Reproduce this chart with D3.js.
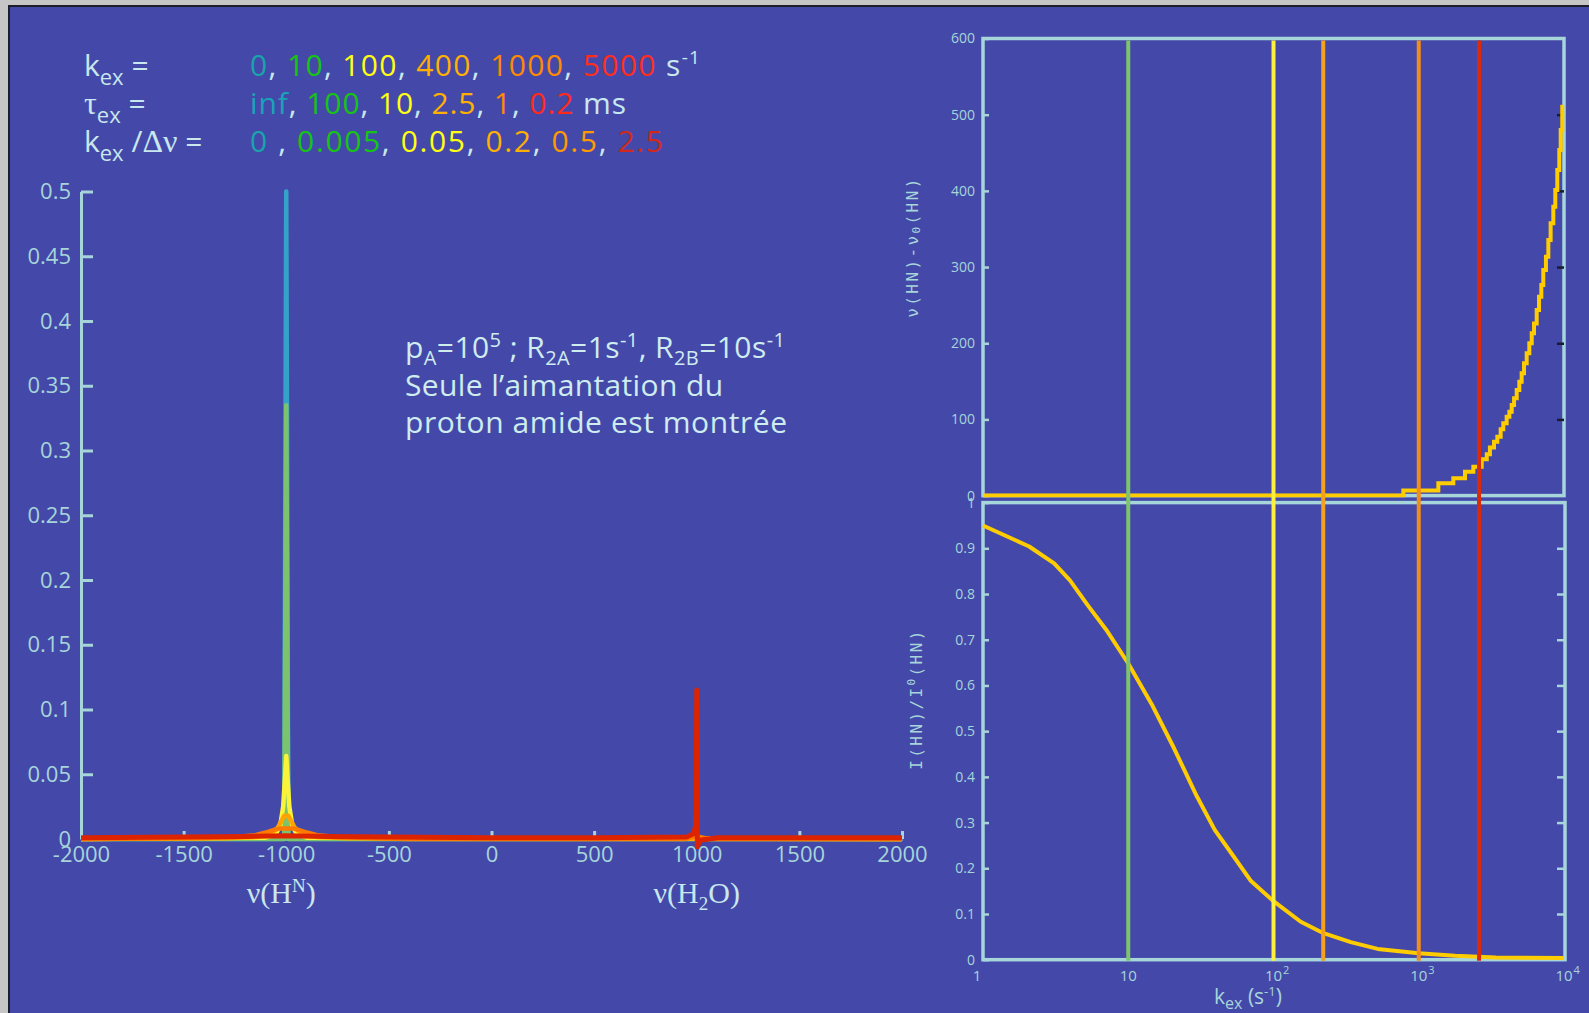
<!DOCTYPE html>
<html>
<head>
<meta charset="utf-8">
<script src="https://cdn.jsdelivr.net/npm/d3@7"></script>
<style>
  html, body { margin: 0; padding: 0; background: #c6c6c6; }
  svg { display: block; }
</style>
</head>
<body>
<svg id="chart" width="1589" height="1013"></svg>
<script>
// ---------------- data ----------------
// exchange rates shown in the header, with their lifetimes and kex/Δν ratios
const kexLabels   = ["0", "10", "100", "400", "1000", "5000"];
const tauLabels   = ["inf", "100", "10", "2.5", "1", "0.2"];
const ratioLabels = ["0 ", "0.005", "0.05", "0.2", "0.5", "2.5"];

// simulated amide-proton spectra, [frequency (Hz), intensity]
const specKex0 = [[-2000, 0], [-1010, 0], [-1000, 0.5], [-990, 0], [2000, 0]];
const specKex10 = [[-2000, 0], [-1010, 0], [-1000, 0.335], [-990, 0], [2000, 0]];
const specKex100 = [[-2000, 0], [-1100, 0.001], [-1050, 0.004], [-1030, 0.01], [-1015, 0.025],
  [-1005, 0.05], [-1000, 0.064], [-995, 0.05], [-985, 0.025], [-970, 0.01], [-950, 0.004],
  [-900, 0.001], [2000, 0]];
const specKex400 = [[-2000, 0], [-1300, 0.0005], [-1150, 0.0015], [-1100, 0.003], [-1060, 0.006],
  [-1040, 0.009], [-1020, 0.015], [-1010, 0.018], [-990, 0.018], [-980, 0.015], [-960, 0.009],
  [-940, 0.006], [-900, 0.003], [-850, 0.0015], [-700, 0.0005], [2000, 0]];
const specKex1000 = [[-2000, 0], [-1400, 0.0008], [-1250, 0.0015], [-1150, 0.003], [-1100, 0.005],
  [-1060, 0.007], [-1030, 0.0082], [-970, 0.0082], [-940, 0.007], [-900, 0.005], [-850, 0.003],
  [-750, 0.0015], [-600, 0.0008], [-400, 0], [940, 0], [1000, 0.002], [1060, 0], [2000, 0]];
const specKex5000 = [[-2000, 0.001], [-1500, 0.0015], [-1200, 0.002], [-1000, 0.0025], [-800, 0.002],
  [-500, 0.0015], [0, 0.001], [500, 0.001], [950, 0.0015], [985, 0.004], [997, 0.012],
  [1000, 0.115], [1003, -0.006], [1015, -0.001], [1100, 0.001], [2000, 0.001]];

const freqTicks = [-2000, -1500, -1000, -500, 0, 500, 1000, 1500, 2000];
const freqTickLabels = ["-2000", "-1500", "-1000", "-500", "0", "500", "1000", "1500", "2000"];
const intensityTicks = [0, 0.05, 0.1, 0.15, 0.2, 0.25, 0.3, 0.35, 0.4, 0.45, 0.5];
const intensityTickLabels = ["0", "0.05", "0.1", "0.15", "0.2", "0.25", "0.3", "0.35", "0.4", "0.45", "0.5"];

// right-hand panels: kex (s-1) on a log axis
const markerKex = [10, 100, 220, 1000, 2600];
const shiftCurve = [[1, 0], [783, 6.6], [1364, 16.1], [1730, 22.7], [2081, 31.4], [2376, 38],
  [2712, 47.6], [2940, 54.2], [3090, 63.3], [3296, 70.8], [3475, 77.4], [3664, 87], [3820, 94.9],
  [4030, 103.6], [4205, 110], [4365, 119], [4530, 127.7], [4725, 138.6], [4925, 149.5],
  [5110, 160.5], [5305, 173.6], [5535, 186.8], [5770, 199.9], [5995, 213], [6215, 226],
  [6485, 243.6], [6730, 261], [6980, 276.4], [7200, 296], [7510, 313.6], [7800, 335.5],
  [8090, 357.4], [8440, 379], [8710, 401], [8990, 427.4], [9280, 453.6], [9490, 480],
  [9730, 510.5], [10000, 510.5]];
const ratioCurve = [[1, 0.95], [2.08, 0.904], [3.09, 0.867], [3.97, 0.83], [5.3, 0.774],
  [7.05, 0.722], [10, 0.648], [14.5, 0.559], [20.7, 0.462], [29.6, 0.358], [39.4, 0.284],
  [52.6, 0.228], [70, 0.172], [100, 0.128], [154, 0.083], [221, 0.058], [340, 0.0385],
  [521, 0.0236], [1000, 0.014], [1780, 0.0088], [3390, 0.005], [10000, 0.0035]];
const shiftTicks = [0, 100, 200, 300, 400, 500, 600];
const ratioTicks = [0, 0.1, 0.2, 0.3, 0.4, 0.5, 0.6, 0.7, 0.8, 0.9, 1];
const ratioTickLabels = ["0", "0.1", "0.2", "0.3", "0.4", "0.5", "0.6", "0.7", "0.8", "0.9", "1"];
const kexTicks = [1, 10, 100, 1000, 10000];
const kexTickBase = ["1", "10", "10", "10", "10"];
const kexTickExp  = ["", "", "2", "3", "4"];

// ---------------- styles ----------------
const BG = "#4449a9";
const AX = "#a6d5da";
const LIGHT = "#c9e7ee";
const SANS = "'Open Sans', 'DejaVu Sans', sans-serif";
const SERIF = "'Liberation Serif', 'DejaVu Serif', serif";
const MONO = "'DejaVu Sans Mono', 'Liberation Mono', monospace";
const rowColors = [
  ["#1aa3ab", "#16c414", "#ffff10", "#ffb000", "#ff8a00", "#ff2d1c"],
  ["#1aa3b8", "#16c414", "#ffff10", "#ffb000", "#ff8a00", "#ff2a1a"],
  ["#1aa3ab", "#16c414", "#ffff10", "#ffb000", "#ff9900", "#d2281a"]
];
const spectrumColors = ["#35a3c9", "#7cc36d", "#fbf23a", "#ffa400", "#ff7a00", "#dd2400"];
const markerColors = ["#7dc46d", "#fcf03c", "#f4a21e", "#f28c1c", "#d92b0c"];
const CURVE = "#ffcc00";

const svg = d3.select("#chart");
const W = 1589, H = 1013;

// page background with the thin framed edge
svg.append("rect").attr("width", W).attr("height", H).attr("fill", "#c6c6c6");
svg.append("rect").attr("x", 8).attr("y", 5).attr("width", W).attr("height", H).attr("fill", "#1e1e2a");
svg.append("rect").attr("x", 10).attr("y", 7).attr("width", W).attr("height", H).attr("fill", BG);

// stretch letter spacing so a line spans a given width
function fitWidth(sel, target) {
  const node = sel.node();
  const w = node.getComputedTextLength();
  const n = node.textContent.length;
  if (n > 1) sel.attr("letter-spacing", ((target - w) / (n - 1)).toFixed(2));
}

// ---------------- header ----------------
const header = svg.append("g").attr("font-family", SANS).attr("fill", LIGHT);
const rowY = [76, 113.5, 151.5];

function rowLabel(y, parts) {
  const t = header.append("text").attr("x", 84).attr("y", y).attr("font-size", 30);
  parts.forEach(p => {
    const s = t.append("tspan").text(p.t);
    if (p.sub) s.attr("font-size", 22).attr("dy", 9);
    if (p.back) s.attr("dy", -9);
    if (p.serif) s.attr("font-family", SERIF).attr("font-size", 32);
  });
  return t;
}
rowLabel(rowY[0], [{t: "k"}, {t: "ex", sub: true}, {t: " =", back: true}]);
rowLabel(rowY[1], [{t: "τ", serif: true}, {t: "ex", sub: true}, {t: " =", back: true}]);
rowLabel(rowY[2], [{t: "k"}, {t: "ex", sub: true}, {t: " /", back: true}, {t: "Δν", serif: true}, {t: " ="}]);

function valueRow(y, labels, colors, unit, unitSup, target) {
  const t = header.append("text").attr("x", 250).attr("y", y).attr("font-size", 30);
  labels.forEach((lab, i) => {
    t.append("tspan").attr("fill", colors[i]).text(lab);
    if (i < labels.length - 1) t.append("tspan").attr("fill", LIGHT).text(", ");
  });
  if (unit) t.append("tspan").attr("fill", LIGHT).text(unit);
  if (unitSup) t.append("tspan").attr("fill", LIGHT).attr("font-size", 19).attr("dy", -12).text(unitSup);
  fitWidth(t, target);
  return t;
}
valueRow(rowY[0], kexLabels, rowColors[0], " s", "-1", 450);
valueRow(rowY[1], tauLabels, rowColors[1], " ms", null, 376);
valueRow(rowY[2], ratioLabels, rowColors[2], null, null, 413);

// ---------------- spectrum panel ----------------
const xS = d3.scaleLinear().domain([-2000, 2000]).range([81, 902]);
const yS = d3.scaleLinear().domain([0, 0.5]).range([839, 191.5]);

const gy = svg.append("g").attr("transform", `translate(${xS(-2000)},0)`)
  .call(d3.axisLeft(yS).tickValues(intensityTicks)
    .tickFormat((d, i) => intensityTickLabels[i])
    .tickSize(-12).tickSizeOuter(0).tickPadding(10));
const gx = svg.append("g").attr("transform", `translate(0,${yS(0)})`)
  .call(d3.axisBottom(xS).tickValues(freqTicks)
    .tickFormat((d, i) => freqTickLabels[i])
    .tickSize(-8).tickSizeOuter(0).tickPadding(7));
[gy, gx].forEach(g => {
  g.attr("font-family", SANS).attr("font-size", 22);
  g.select(".domain").attr("stroke", AX).attr("stroke-width", 3);
  g.selectAll(".tick line").attr("stroke", AX).attr("stroke-width", 3);
  g.selectAll(".tick text").attr("fill", AX);
});

const spectra = [specKex0, specKex10, specKex100, specKex400, specKex1000, specKex5000];
const specLine = d3.line().x(d => xS(d[0])).y(d => yS(d[1]));
svg.append("g").selectAll("path").data(spectra).join("path")
  .attr("d", specLine)
  .attr("fill", "none")
  .attr("stroke", (d, i) => spectrumColors[i])
  .attr("stroke-width", (d, i) => i === 5 ? 5 : 4.5)
  .attr("stroke-linejoin", "round");

// nucleus labels under the frequency axis
const nucl = svg.append("g").attr("font-family", SERIF).attr("font-size", 30).attr("fill", LIGHT)
  .attr("text-anchor", "middle");
const hn = nucl.append("text").attr("x", xS(-1000) - 5).attr("y", 903);
hn.append("tspan").text("ν(H");
hn.append("tspan").attr("font-size", 19).attr("dy", -11).text("N");
hn.append("tspan").attr("dy", 11).text(")");
const hw = nucl.append("text").attr("x", xS(1000)).attr("y", 903);
hw.append("tspan").text("ν(H");
hw.append("tspan").attr("font-size", 19).attr("dy", 7).text("2");
hw.append("tspan").attr("dy", -7).text("O)");

// simulation parameters
const note = svg.append("g").attr("font-family", SANS).attr("font-size", 30).attr("fill", "#cfecef");
const n1 = note.append("text").attr("x", 405).attr("y", 358);
[["p"], ["A", "sub"], ["=10"], ["5", "sup"], [" ; R"], ["2A", "sub"], ["=1s"], ["-1", "sup"],
 [", R"], ["2B", "sub"], ["=10s"], ["-1", "sup"]].forEach(([t, k], i, arr) => {
  const prev = i > 0 ? arr[i - 1][1] : null;
  const s = n1.append("tspan").text(t);
  let dy = 0;
  if (prev === "sub") dy -= 7;
  if (prev === "sup") dy += 11;
  if (k === "sub") { s.attr("font-size", 20); dy += 7; }
  if (k === "sup") { s.attr("font-size", 20); dy -= 11; }
  if (dy) s.attr("dy", dy);
});
fitWidth(n1, 380);
const n2 = note.append("text").attr("x", 405).attr("y", 396).text("Seule l’aimantation du");
fitWidth(n2, 318);
const n3 = note.append("text").attr("x", 405).attr("y", 433).text("proton amide est montrée");
fitWidth(n3, 382);

// ---------------- kex panels ----------------
const kS = d3.scaleLog().domain([1, 1e4]).range([983, 1564]);
const sY = d3.scaleLinear().domain([0, 600]).range([495.6, 38.5]);
const rY = d3.scaleLinear().domain([0, 1]).range([959.7, 502.6]);

// frames
svg.append("rect").attr("x", 983).attr("y", sY(600)).attr("width", 581).attr("height", sY(0) - sY(600))
  .attr("fill", "none").attr("stroke", AX).attr("stroke-width", 3.5);
svg.append("rect").attr("x", 983).attr("y", rY(1)).attr("width", 582).attr("height", rY(0) - rY(1))
  .attr("fill", "none").attr("stroke", AX).attr("stroke-width", 3.5);

// axes
function styleAxis(g, color) {
  g.attr("font-family", SANS).attr("font-size", 14);
  g.select(".domain").remove();
  g.selectAll(".tick line").attr("stroke", color).attr("stroke-width", 2.5);
  g.selectAll(".tick text").attr("fill", AX);
}
styleAxis(svg.append("g").attr("transform", `translate(983,0)`)
  .call(d3.axisLeft(sY).tickValues(shiftTicks).tickSize(-6).tickPadding(8)), AX);
styleAxis(svg.append("g").attr("transform", `translate(1564,0)`)
  .call(d3.axisRight(sY).tickValues(shiftTicks.slice(1, -1)).tickSize(-7).tickFormat("")), "#1b1b30");
styleAxis(svg.append("g").attr("transform", `translate(983,0)`)
  .call(d3.axisLeft(rY).tickValues(ratioTicks).tickFormat((d, i) => ratioTickLabels[i])
    .tickSize(-6).tickPadding(8)), AX);
styleAxis(svg.append("g").attr("transform", `translate(1565,0)`)
  .call(d3.axisRight(rY).tickValues(ratioTicks.slice(1, -1)).tickSize(-8).tickFormat("")), AX);

// log-axis labels, base centred on the tick with the exponent after it
const kLab = svg.append("g").attr("font-family", SANS).attr("font-size", 15).attr("fill", AX);
kexTicks.forEach((k, i) => {
  const base = kLab.append("text").attr("x", kS(k)).attr("y", 981).attr("text-anchor", "middle")
    .text(kexTickBase[i]);
  if (i === 0) base.attr("x", kS(k) - 6);
  if (kexTickExp[i]) {
    const w = base.node().getComputedTextLength();
    kLab.append("text").attr("x", kS(k) + w / 2 + 1).attr("y", 974).attr("font-size", 11)
      .text(kexTickExp[i]);
  }
});
const kTitle = svg.append("text").attr("x", 1248).attr("y", 1004).attr("text-anchor", "middle")
  .attr("font-family", SANS).attr("font-size", 21).attr("fill", AX);
kTitle.append("tspan").text("k");
kTitle.append("tspan").attr("font-size", 16).attr("dy", 5).text("ex");
kTitle.append("tspan").attr("dy", -5).text(" (s");
kTitle.append("tspan").attr("font-size", 13).attr("dy", -8).text("-1");
kTitle.append("tspan").attr("dy", 8).text(")");

// rotated panel titles
function sideTitle(cx, cy, before, sup, supText, after) {
  const t = svg.append("text").attr("transform", `translate(${cx},${cy}) rotate(-90)`)
    .attr("text-anchor", "middle").attr("dominant-baseline", "central")
    .attr("font-family", MONO).attr("font-size", 16).attr("fill", AX);
  t.append("tspan").text(before);
  t.append("tspan").attr("font-size", 11).attr("dy", sup ? -5 : 4).text(supText);
  t.append("tspan").attr("dy", sup ? 5 : -4).text(after);
  fitWidth(t, 139);
}
sideTitle(912, 247, "ν(HN)-ν", false, "0", "(HN)");
sideTitle(916, 699, "I(HN)/I", true, "0", "(HN)");

// curves
svg.append("clipPath").attr("id", "clip-top").append("rect")
  .attr("x", 981).attr("y", sY(600)).attr("width", 586).attr("height", sY(0) - sY(600) + 2);
svg.append("clipPath").attr("id", "clip-bot").append("rect")
  .attr("x", 981).attr("y", rY(1)).attr("width", 586).attr("height", rY(0) - rY(1) + 2);

svg.append("path").datum(shiftCurve)
  .attr("clip-path", "url(#clip-top)")
  .attr("d", d3.line().x(d => kS(d[0])).y(d => sY(d[1])).curve(d3.curveStepAfter))
  .attr("fill", "none").attr("stroke", CURVE).attr("stroke-width", 4);
svg.append("path").datum(ratioCurve)
  .attr("clip-path", "url(#clip-bot)")
  .attr("d", d3.line().x(d => kS(d[0])).y(d => rY(d[1])))
  .attr("fill", "none").attr("stroke", CURVE).attr("stroke-width", 4)
  .attr("stroke-linejoin", "round");

// reference kex values crossing both panels
svg.append("g").selectAll("line").data(markerKex).join("line")
  .attr("x1", d => kS(d)).attr("x2", d => kS(d))
  .attr("y1", sY(600) + 2).attr("y2", rY(0) + 1)
  .attr("stroke", (d, i) => markerColors[i]).attr("stroke-width", 4);
</script>
</body>
</html>
